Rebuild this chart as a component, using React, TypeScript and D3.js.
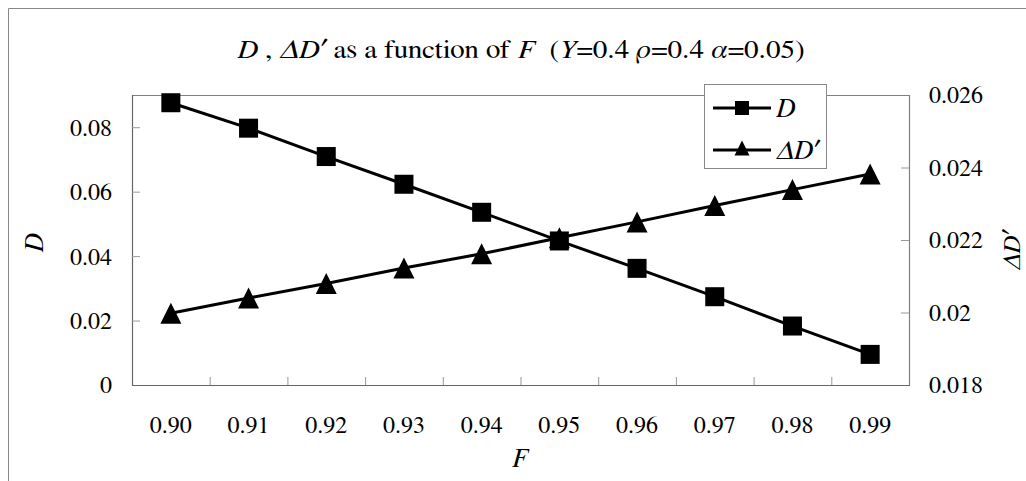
import React from "react";
import * as d3 from "d3";

const categories = ["0.90", "0.91", "0.92", "0.93", "0.94", "0.95", "0.96", "0.97", "0.98", "0.99"];
const dValues = [0.0876, 0.0797, 0.0709, 0.0623, 0.0536, 0.0447, 0.0362, 0.0274, 0.0183, 0.0095];
const deltaDValues = [0.01998, 0.0204, 0.0208, 0.02123, 0.02162, 0.02206, 0.0225, 0.02295, 0.02339, 0.02382];
const leftTicks = [0, 0.02, 0.04, 0.06, 0.08];
const rightTicks = [0.018, 0.02, 0.022, 0.024, 0.026];

const W = 1026;
const H = 481;
const M = { left: 132, right: 909, top: 95, bottom: 385 };
const FONT = '"FreeSerif", "Liberation Serif", "Times New Roman", serif';
const TS: React.CSSProperties = { fontFamily: FONT };

export default function App() {
  const x = d3.scaleBand<string>().domain(categories).range([M.left, M.right]);
  const yL = d3.scaleLinear().domain([0, 0.09]).range([M.bottom, M.top]);
  const yR = d3.scaleLinear().domain([0.018, 0.026]).range([M.bottom, M.top]);
  const cx = (c: string) => (x(c) as number) + x.bandwidth() / 2;

  const lineD = d3
    .line<number>()
    .x((_, i) => cx(categories[i]))
    .y((v) => yL(v));
  const lineR = d3
    .line<number>()
    .x((_, i) => cx(categories[i]))
    .y((v) => yR(v));

  const sq = 19;
  const tri = (px: number, py: number, s = 21) =>
    `M${px},${py - s / 2} L${px + s / 2},${py + s / 2} L${px - s / 2},${py + s / 2} Z`;

  const xTickPos = d3.range(1, categories.length).map((i) => M.left + i * x.bandwidth());

  return (
    <svg width={W} height={H} style={{ position: "absolute", left: 0, top: 0, background: "#fff", fontFamily: FONT }}>
      <rect x={0} y={0} width={W} height={H} fill="#fff" />
      {/* outer frame (cropped) */}
      <path d={`M8.5,${H + 5} L8.5,8.5 L${W + 5},8.5`} fill="none" stroke="#888" strokeWidth={1} />

      {/* title */}
      <g transform="translate(521,58) scale(1.12,1)">
        <text x={0} y={0} fontSize={26} textAnchor="middle" fill="#000" style={{ ...TS, whiteSpace: "pre" }}>
          <tspan fontStyle="italic">D</tspan>
          <tspan>{" , "}</tspan>
          <tspan fontStyle="italic">ΔD′</tspan>
          <tspan>{" as a function of "}</tspan>
          <tspan fontStyle="italic">F</tspan>
          <tspan>{"  ("}</tspan>
          <tspan fontStyle="italic">Y</tspan>
          <tspan>{"=0.4 "}</tspan>
          <tspan fontStyle="italic">ρ</tspan>
          <tspan>{"=0.4 "}</tspan>
          <tspan fontStyle="italic">α</tspan>
          <tspan>{"=0.05)"}</tspan>
        </text>
      </g>

      {/* plot border */}
      <path d={`M${M.left},${M.top + 0.5} L${M.right + 0.5},${M.top + 0.5} L${M.right + 0.5},${M.bottom}`} fill="none" stroke="#808080" strokeWidth={1.2} />
      <line x1={M.left + 0.5} x2={M.left + 0.5} y1={M.top} y2={M.bottom} stroke="#666" strokeWidth={1.2} />
      <line x1={M.left} x2={M.right + 1} y1={M.bottom + 0.5} y2={M.bottom + 0.5} stroke="#666" strokeWidth={1.2} />

      {/* left ticks */}
      {leftTicks.map((t) => (
        <g key={"l" + t}>
          {t > 0 && <line x1={M.left} x2={M.left + 8} y1={yL(t) + 0.5} y2={yL(t) + 0.5} stroke="#999" />}
          <text x={112} y={yL(t)} dy="0.35em" fontSize={24} textAnchor="end" fill="#000" style={TS}>
            {t === 0 ? "0" : t.toFixed(2)}
          </text>
        </g>
      ))}
      {/* right ticks */}
      {rightTicks.map((t, i) => (
        <g key={"r" + t}>
          {i > 0 && i < rightTicks.length - 1 && (
            <line x1={M.right - 8} x2={M.right} y1={yR(t) + 0.5} y2={yR(t) + 0.5} stroke="#999" />
          )}
          <text x={929} y={yR(t)} dy="0.35em" fontSize={24} textAnchor="start" fill="#000" style={TS}>
            {t === 0.02 ? "0.02" : t.toFixed(3)}
          </text>
        </g>
      ))}
      {/* x ticks */}
      {xTickPos.map((p) => (
        <line key={"x" + p} x1={p + 0.5} x2={p + 0.5} y1={M.bottom - 8} y2={M.bottom} stroke="#999" />
      ))}
      {categories.map((c) => (
        <text key={"xl" + c} x={cx(c)} y={433} fontSize={24} textAnchor="middle" fill="#000" style={TS}>
          {c}
        </text>
      ))}

      {/* axis titles */}
      <text x={520} y={467} fontSize={27} fontStyle="italic" textAnchor="middle" fill="#000" style={TS}>F</text>
      <text transform={`translate(43,243) rotate(-90)`} fontSize={27} fontStyle="italic" textAnchor="middle" fill="#000" style={TS}>D</text>
      <text transform={`translate(1020,250) rotate(-90)`} fontSize={25} fontStyle="italic" textAnchor="middle" fill="#000" style={TS}>ΔD′</text>

      {/* series lines */}
      <path d={lineD(dValues) || ""} fill="none" stroke="#000" strokeWidth={3} />
      <path d={lineR(deltaDValues) || ""} fill="none" stroke="#000" strokeWidth={3} />

      {deltaDValues.map((v, i) => (
        <path key={"t" + i} d={tri(cx(categories[i]), yR(v))} fill="#000" />
      ))}
      {dValues.map((v, i) => (
        <rect key={"s" + i} x={cx(categories[i]) - sq / 2} y={yL(v) - sq / 2} width={sq} height={sq} fill="#000" />
      ))}

      {/* legend */}
      <rect x={704.5} y={84.5} width={122} height={84} fill="#fff" stroke="#888" strokeWidth={1} />
      <line x1={713} x2={771} y1={108} y2={108} stroke="#000" strokeWidth={3} />
      <rect x={742 - 7} y={108 - 7} width={14} height={14} fill="#000" />
      <text x={776} y={108} dy="0.35em" fontSize={27} fontStyle="italic" fill="#000" style={TS}>D</text>
      <line x1={713} x2={771} y1={150} y2={150} stroke="#000" strokeWidth={3} />
      <path d={tri(742, 148, 15)} fill="#000" />
      <text x={776} y={150} dy="0.35em" fontSize={27} fontStyle="italic" fill="#000" style={TS}>ΔD′</text>
    </svg>
  );
}
